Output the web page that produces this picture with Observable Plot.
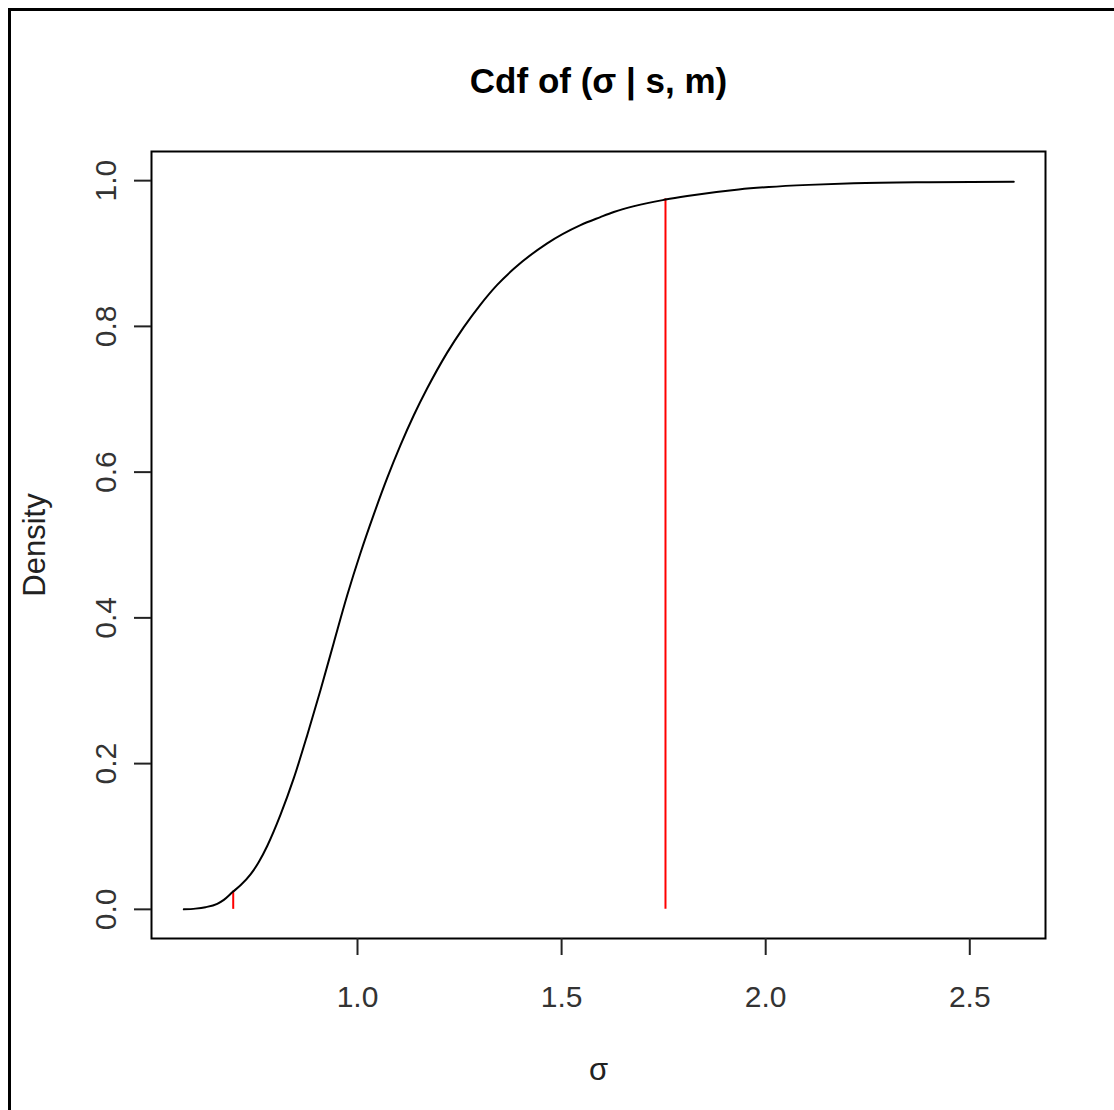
<!DOCTYPE html>
<html>
<head>
<meta charset="utf-8">
<script src="https://cdn.jsdelivr.net/npm/d3@7"></script>
<script src="https://cdn.jsdelivr.net/npm/@observablehq/plot@0.6"></script>
<style>
  html, body { margin: 0; padding: 0; background: white; overflow: hidden; }
  #wrap { position: relative; width: 1114px; height: 1110px; }
  #wrap svg { display: block; }
  #border { position: absolute; left: 8px; top: 8px; width: 1106px; height: 1102px;
            border-left: 3px solid black; border-top: 3px solid black; box-sizing: border-box; pointer-events: none; }
</style>
</head>
<body>
<div id="wrap"><div id="border"></div></div>
<script>
// ---- data ----
const sigma = [0.5745, 0.603, 0.6276, 0.6563, 0.6725, 0.6945, 0.7134, 0.7379, 0.7582, 0.7788,
               0.8114, 0.8439, 0.8768, 0.9094, 0.9419, 0.9748, 1.0073, 1.0399, 1.0728, 1.1053,
               1.1379, 1.1708, 1.2197, 1.2604, 1.3013, 1.3422, 1.3829, 1.4647, 1.5463, 1.595,
               1.6279, 1.7545, 1.8077, 1.934, 2.0076, 2.1056, 2.216, 2.40, 2.6078];
const cdf   = [0.0, 0.001, 0.003, 0.0076, 0.013, 0.024, 0.033, 0.048, 0.065, 0.087,
               0.13, 0.18, 0.239, 0.301, 0.366, 0.431, 0.489, 0.542, 0.592, 0.637,
               0.678, 0.715, 0.764, 0.799, 0.830, 0.857, 0.879, 0.914, 0.939, 0.950,
               0.957, 0.974, 0.979, 0.988, 0.9913, 0.9942, 0.9964, 0.9979, 0.9985];
const qSigma = [0.6955, 1.7545];   // 2.5% and 97.5% quantiles
const qCdf   = [0.025, 0.975];
const xTicks = [1.0, 1.5, 2.0, 2.5];
const yTicks = [0.0, 0.2, 0.4, 0.6, 0.8, 1.0];
const titleText = "Cdf of (σ | s, m)";
const xLabel = "σ";
const yLabel = "Density";

const curve = sigma.map((s, i) => ({s, F: cdf[i]}));
const quant = qSigma.map((s, i) => ({s, F: qCdf[i]}));
const fmt = d3.format(".1f");
const mainFont = "'Liberation Sans', Arial, Helvetica, sans-serif";

const chart = Plot.plot({
  width: 1114,
  height: 1110,
  marginLeft: 151,
  marginRight: 69,
  marginTop: 151,
  marginBottom: 172,
  x: {domain: [0.4953, 2.6855]},
  y: {domain: [-0.04, 1.04]},
  style: {fontFamily: mainFont, background: "transparent", color: "black"},
  marks: [
    Plot.frame({stroke: "black", strokeWidth: 2}),
    Plot.axisX(xTicks, {tickSize: 17, tickPadding: 30, tickFormat: fmt, label: null,
                        stroke: "#222", strokeWidth: 2, fontSize: 30, fontFamily: mainFont, fill: "#333"}),
    Plot.axisY(yTicks, {tickSize: 17, tickFormat: () => "", label: null, stroke: "#222", strokeWidth: 2}),
    Plot.text(yTicks, {y: d => d, text: d => fmt(d), frameAnchor: "left", dx: -36, rotate: -90,
                       textAnchor: "middle", lineAnchor: "bottom", fontSize: 30, fontFamily: mainFont, fill: "#333"}),
    Plot.ruleX(quant, {x: "s", y1: 0, y2: "F", stroke: "#ff0000", strokeWidth: 2}),
    Plot.line(curve, {x: "s", y: "F", stroke: "black", strokeWidth: 2, curve: "monotone-x"}),
    Plot.text([titleText], {text: d => d, frameAnchor: "top", dy: -59, lineAnchor: "bottom",
                            fontSize: 35, fontWeight: "bold", fontFamily: mainFont, fill: "black"}),
    Plot.text([xLabel], {text: d => d, frameAnchor: "bottom", dy: 141, lineAnchor: "bottom",
                         fontSize: 31, fontFamily: mainFont, fill: "#222"}),
    Plot.text([yLabel], {text: d => d, frameAnchor: "left", dx: -107, rotate: -90, lineAnchor: "bottom",
                         textAnchor: "middle", fontSize: 31, fontFamily: mainFont, fill: "#222"})
  ]
});
document.getElementById("wrap").appendChild(chart);
</script>
</body>
</html>
